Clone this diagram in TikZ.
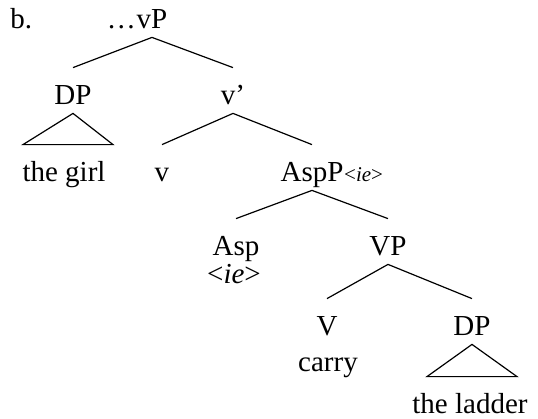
\documentclass[tikz,border=0pt]{standalone}
\usepackage{fontspec}
\setmainfont{Liberation Serif}
\usetikzlibrary{positioning}

\begin{document}
\begin{tikzpicture}[
      x=0.5pt, y=-0.5pt,
      font=\fontsize{14.5}{17}\selectfont,
      cat/.style={
         anchor=base,
         inner xsep=0pt,
         inner ysep=4.5pt,
         text height=13.5pt,
         text depth=0pt
      },
      word/.style={anchor=base, inner sep=0pt},
      tag/.style={
         anchor=base west,
         inner sep=0pt,
         font=\fontsize{10.5}{12}\selectfont
      },
      branch/.style={line width=0.6pt},
    ]
    \useasboundingbox (0,0) rectangle (538,419);
    \node (ex) [anchor=base west, inner sep=0pt] at (10,28) {b.};
    \node (vP) [cat] at (152,28) {vP};
    \node (vPdots) [anchor=base east, inner sep=0pt] at (vP.base west) {\ldots};
    \node (DP1) [cat] at (73,104) {DP};
    \node (vbar) [cat] at (233,104) {v’};
    \node (girl) [cat] at (64,181) {the girl};
    \node (v) [cat] at (162,181) {v};
    \node (AspP) [cat] at (312,181) {AspP};
    \node (AspPtag) [tag] at (AspP.base east) {<\textit{ie}>};
    \node (Asp) [cat] at (236,255) {Asp};
    \node (Aspie) [word] at (234,283) {<\textit{ie}>};
    \node (VP) [cat] at (388,255) {VP};
    \node (V) [cat] at (327,335) {V};
    \node (carry) [word] at (328,371) {carry};
    \node (DP2) [cat] at (472,335) {DP};
    \node (ladder) [cat] at (470,413) {the ladder};
    % branches
    \foreach \mother/\daughter in {vP/DP1, vP/vbar, vbar/v, vbar/AspP,
                                   AspP/Asp, AspP/VP, VP/V, VP/DP2}
       \draw[branch] (\mother.south) -- (\daughter.north);
    % triangles
    \draw[branch] (DP1.south) -- ([xshift=-20.5pt]girl.north)
       -- ([xshift=24.5pt]girl.north) -- cycle;
    \draw[branch] (DP2.south) -- ([xshift=-21.5pt]ladder.north)
       -- ([xshift=23.5pt]ladder.north) -- cycle;
\end{tikzpicture}
\end{document}
